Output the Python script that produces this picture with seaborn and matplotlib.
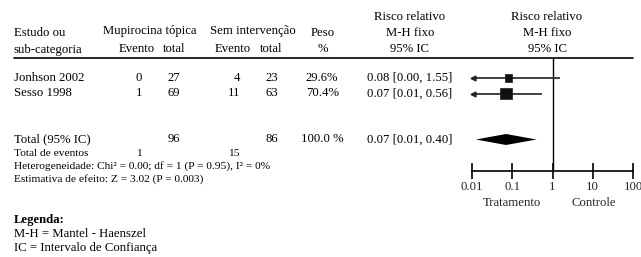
import numpy as np
import pandas as pd
import matplotlib
matplotlib.use("Agg")
import matplotlib.pyplot as plt
import seaborn as sns

# study data
studies = ["Jonhson 2002", "Sesso 1998"]
trt_events = [0, 1]
trt_total = [27, 69]
ctl_events = [4, 11]
ctl_total = [23, 63]
weights = [29.6, 70.4]
rr = [0.08, 0.07]
ci_lo = [0.00, 0.01]
ci_hi = [1.55, 0.56]

# pooled result
total_trt = 96
total_ctl = 86
total_weight = 100.0
total_events_trt = 1
total_events_ctl = 15
pooled_rr = 0.07
pooled_lo = 0.01
pooled_hi = 0.40

axis_ticks = [0.01, 0.1, 1, 10, 100]
axis_labels = ["0.01", "0.1", "1", "10", "100"]

sns.set_style("white")
plt.rcParams["font.family"] = ["Liberation Serif", "DejaVu Serif"]

W, H = 641, 257
fig = plt.figure(figsize=(W / 100, H / 100), dpi=100)
fig.patch.set_facecolor("white")

# text layer in pixel coordinates
ax = fig.add_axes([0, 0, 1, 1])
ax.set_xlim(0, W)
ax.set_ylim(H, 0)
ax.axis("off")

fs = 9.2
fs_small = 8.2


def txt(x, y, s, ha="left", size=fs, **kw):
    ax.text(x, y, s, ha=ha, va="center", fontsize=size, color="black", **kw)


# header
txt(14, 33, "Estudo ou")
txt(14, 49.5, "sub-categoria")
txt(150, 31, "Mupirocina tópica", ha="center")
txt(137, 49.5, "Evento", ha="center")
txt(174, 49.5, "total", ha="center")
txt(253, 31, "Sem intervenção", ha="center")
txt(233, 49.5, "Evento", ha="center")
txt(271, 49.5, "total", ha="center")
txt(323, 33, "Peso", ha="center")
txt(323, 49.5, "%", ha="center")
txt(410, 17, "Risco relativo", ha="center")
txt(410, 33, "M-H fixo", ha="center")
txt(410, 49.5, "95% IC", ha="center")
txt(547, 17, "Risco relativo", ha="center")
txt(547, 33, "M-H fixo", ha="center")
txt(547, 49.5, "95% IC", ha="center")
ax.plot([14, 633], [57.5, 57.5], color="black", lw=1.2)

rows_y = [78, 93.5]
for i, y in enumerate(rows_y):
    txt(14, y, studies[i])
    txt(142, y, str(trt_events[i]), ha="right")
    txt(168, y, str(trt_total[i]))
    txt(240, y, str(ctl_events[i]), ha="right")
    txt(265, y, str(ctl_total[i]))
    txt(306, y, f"{weights[i]:.1f}%")
    txt(367, y, f"{rr[i]:.2f} [{ci_lo[i]:.2f}, {ci_hi[i]:.2f}]")

total_y = 139.5
txt(14, total_y, "Total (95% IC)")
txt(168, total_y, str(total_trt))
txt(265, total_y, str(total_ctl))
txt(301, total_y, f"{total_weight:.1f} %")
txt(367, total_y, f"{pooled_rr:.2f} [{pooled_lo:.2f}, {pooled_hi:.2f}]")
txt(14, 154, "Total de eventos", size=fs_small)
txt(142, 154, str(total_events_trt), ha="right", size=fs_small)
txt(240, 154, str(total_events_ctl), ha="right", size=fs_small)
txt(14, 166.5, "Heterogeneidade: Chi² = 0.00; df = 1 (P = 0.95), I² = 0%", size=fs_small)
txt(14, 179, "Estimativa de efeito: Z = 3.02 (P = 0.003)", size=fs_small)

txt(14, 220, "Legenda:", fontweight="bold")
txt(14, 234, "M-H = Mantel - Haenszel")
txt(14, 248, "IC = Intervalo de Confiança")

# forest axes: log scale, y in pixel rows
x0, x1 = 472, 633
y_top, y_bot = 57.5, 171
fax = fig.add_axes([x0 / W, 1 - y_bot / H, (x1 - x0) / W, (y_bot - y_top) / H])
fax.set_xscale("log")
fax.set_xlim(axis_ticks[0], axis_ticks[-1])
fax.set_ylim(y_bot, y_top)
fax.patch.set_alpha(0)
for side in ["top", "left", "right"]:
    fax.spines[side].set_visible(False)
fax.spines["bottom"].set_color("black")
fax.spines["bottom"].set_linewidth(1.2)
fax.set_yticks([])
fax.set_xticks(axis_ticks)
fax.set_xticklabels(axis_labels)
fax.minorticks_off()
fax.tick_params(axis="x", direction="inout", length=11, width=1.2, color="black",
                labelsize=fs, pad=1.5, bottom=True)
fax.axvline(1, color="black", lw=1.0)

df = pd.DataFrame({"rr": rr, "y": rows_y, "w": weights})
lo_clip = [max(v, axis_ticks[0]) for v in ci_lo]
fax.hlines(rows_y, lo_clip, ci_hi, color="#333333", lw=1.3, clip_on=False)
for i, y in enumerate(rows_y):
    if ci_lo[i] <= axis_ticks[0]:
        fax.plot([axis_ticks[0] * 1.03], [y], marker="<", color="#222222",
                 markersize=3.5, clip_on=False)
sns.scatterplot(data=df, x="rr", y="y", size="w", sizes=(28, 70), marker="s",
                color="#111111", edgecolor="#111111", legend=False, ax=fax, zorder=3)

dh = 5.5
fax.fill([pooled_lo * 1.25, pooled_rr, pooled_hi, pooled_rr],
         [total_y, total_y - dh, total_y, total_y + dh], color="black", lw=0)
fax.set_xlabel("")
fax.set_ylabel("")

ax.text(512, 203, "Tratamento", ha="center", va="center", fontsize=fs)
ax.text(594, 203, "Controle", ha="center", va="center", fontsize=fs)

fig.savefig("out.png", dpi=100, facecolor="white")
